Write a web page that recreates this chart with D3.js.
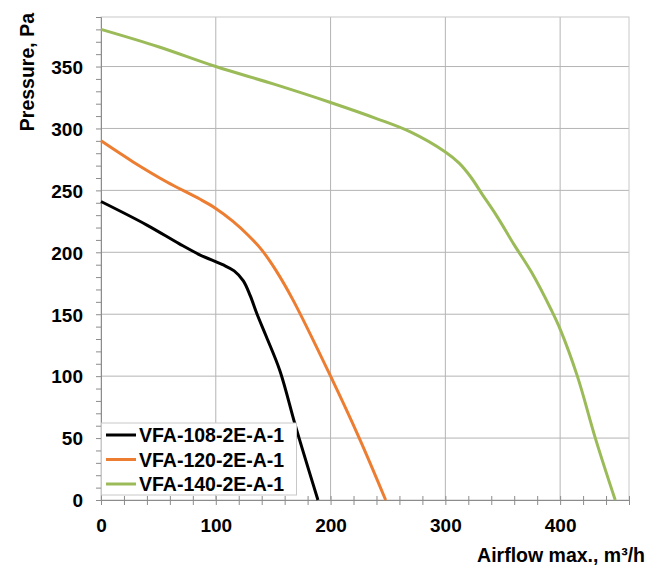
<!DOCTYPE html>
<html>
<head>
<meta charset="utf-8">
<script src="https://d3js.org/d3.v7.min.js"></script>
<style>
  body { margin: 0; background: #fff; }
  text { font-family: "Liberation Sans", Arial, sans-serif; font-weight: bold; fill: #000; }
</style>
</head>
<body>
<div id="chart"></div>
<script>
// fan curves (airflow m3/h, pressure Pa)
var names = ["VFA-108-2E-A-1", "VFA-120-2E-A-1", "VFA-140-2E-A-1"];
var colors = ["#000000", "#ed7d31", "#9bbb59"];

var flow108 = [0, 40, 68, 86, 106, 116, 124, 130, 136, 144, 156, 170, 189];
var pres108 = [241, 222, 207, 198, 190, 185, 177, 165, 150, 132, 104, 58, 0];

var flow120 = [0, 28, 57, 86, 99, 115, 128, 140, 152, 167, 200, 225, 248];
var pres120 = [290, 273, 257, 243, 236, 225, 214, 202, 186, 162, 100, 50, 0];

var flow140 = [0, 50, 100, 150, 200, 240, 270, 300, 312, 322, 332, 345, 360, 375, 392, 400, 415, 431, 448];
var pres140 = [380, 366, 350, 336, 321, 308, 297, 281, 272, 261, 247, 229, 206, 184, 154, 138, 100, 49, 0];

var xTicks = [0, 100, 200, 300, 400];
var yTicks = [0, 50, 100, 150, 200, 250, 300, 350];

var series = [
  {name: names[0], color: colors[0], x: flow108, y: pres108},
  {name: names[1], color: colors[1], x: flow120, y: pres120},
  {name: names[2], color: colors[2], x: flow140, y: pres140}
];

// set the dimensions and margins of the graph
var W = 649, H = 569;
var margin = {top: 17, right: 20, bottom: 69, left: 101},
    width = W - margin.left - margin.right,
    height = H - margin.top - margin.bottom;

var svg = d3.select("#chart").append("svg")
  .attr("width", W)
  .attr("height", H);

var g = svg.append("g")
  .attr("transform", "translate(" + margin.left + "," + margin.top + ")");

var x = d3.scaleLinear().domain([0, 460]).range([0, width]);
var y = d3.scaleLinear().domain([0, 390]).range([height, 0]);

// grid
g.append("g").selectAll("line").data(xTicks.slice(1)).enter().append("line")
  .attr("x1", function(d) { return x(d); }).attr("x2", function(d) { return x(d); })
  .attr("y1", 0).attr("y2", height)
  .attr("stroke", "#b4b4b4").attr("stroke-width", 1);
g.append("g").selectAll("line").data(yTicks.slice(1)).enter().append("line")
  .attr("x1", 0).attr("x2", width)
  .attr("y1", function(d) { return y(d); }).attr("y2", function(d) { return y(d); })
  .attr("stroke", "#b4b4b4").attr("stroke-width", 1);

// plot border
g.append("rect")
  .attr("x", 0).attr("y", 0).attr("width", width).attr("height", height)
  .attr("fill", "none").attr("stroke", "#c8c8c8");

// y axis with minor ticks
var yAxis = g.append("g")
  .call(d3.axisLeft(y).tickValues(d3.range(0, 391, 10)).tickSize(5)
    .tickFormat(function(d) { return yTicks.indexOf(d) >= 0 ? d : ""; }));
yAxis.select(".domain").attr("stroke", "#8c8c8c");
yAxis.selectAll(".tick line").attr("stroke", "#8c8c8c");
yAxis.selectAll(".tick text").attr("font-size", "19px").attr("x", -18).attr("dy", "0.36em");

// x axis with minor ticks crossing the line
var xAxis = g.append("g")
  .attr("transform", "translate(0," + height + ")")
  .call(d3.axisBottom(x).tickValues(d3.range(0, 461, 20)).tickSize(5)
    .tickFormat(function(d) { return xTicks.indexOf(d) >= 0 ? d : ""; }));
xAxis.select(".domain").attr("stroke", "#8c8c8c");
xAxis.selectAll(".tick line").attr("stroke", "#8c8c8c").attr("y1", -4);
xAxis.selectAll(".tick text").attr("font-size", "19px").attr("y", 19).attr("dy", "0.71em");

// curves
var line = d3.line()
  .x(function(d) { return x(d[0]); })
  .y(function(d) { return y(d[1]); })
  .curve(d3.curveCatmullRom.alpha(0.5));

series.forEach(function(s) {
  g.append("path")
    .datum(d3.zip(s.x, s.y))
    .attr("fill", "none")
    .attr("stroke", s.color)
    .attr("stroke-width", 3)
    .attr("stroke-linejoin", "round")
    .attr("d", line);
});

// legend
var leg = g.append("g");
leg.append("rect")
  .attr("x", 0.5).attr("y", 406).attr("width", 195).attr("height", 72)
  .attr("fill", "#fff").attr("stroke", "#c8c8c8");
series.forEach(function(s, i) {
  var ly = 418 + i * 24.5;
  leg.append("line")
    .attr("x1", 5).attr("x2", 35).attr("y1", ly).attr("y2", ly)
    .attr("stroke", s.color).attr("stroke-width", 3);
  leg.append("text")
    .attr("x", 38).attr("y", ly).attr("dy", "0.36em")
    .attr("font-size", "19.5px")
    .text(s.name);
});

// axis titles
svg.append("text")
  .attr("transform", "translate(34,13) rotate(-90)")
  .attr("text-anchor", "end")
  .attr("font-size", "19.5px")
  .text("Pressure, Pa");

svg.append("text")
  .attr("x", 645).attr("y", 562)
  .attr("text-anchor", "end")
  .attr("font-size", "19.5px")
  .text("Airflow max., m³/h");
</script>
</body>
</html>
